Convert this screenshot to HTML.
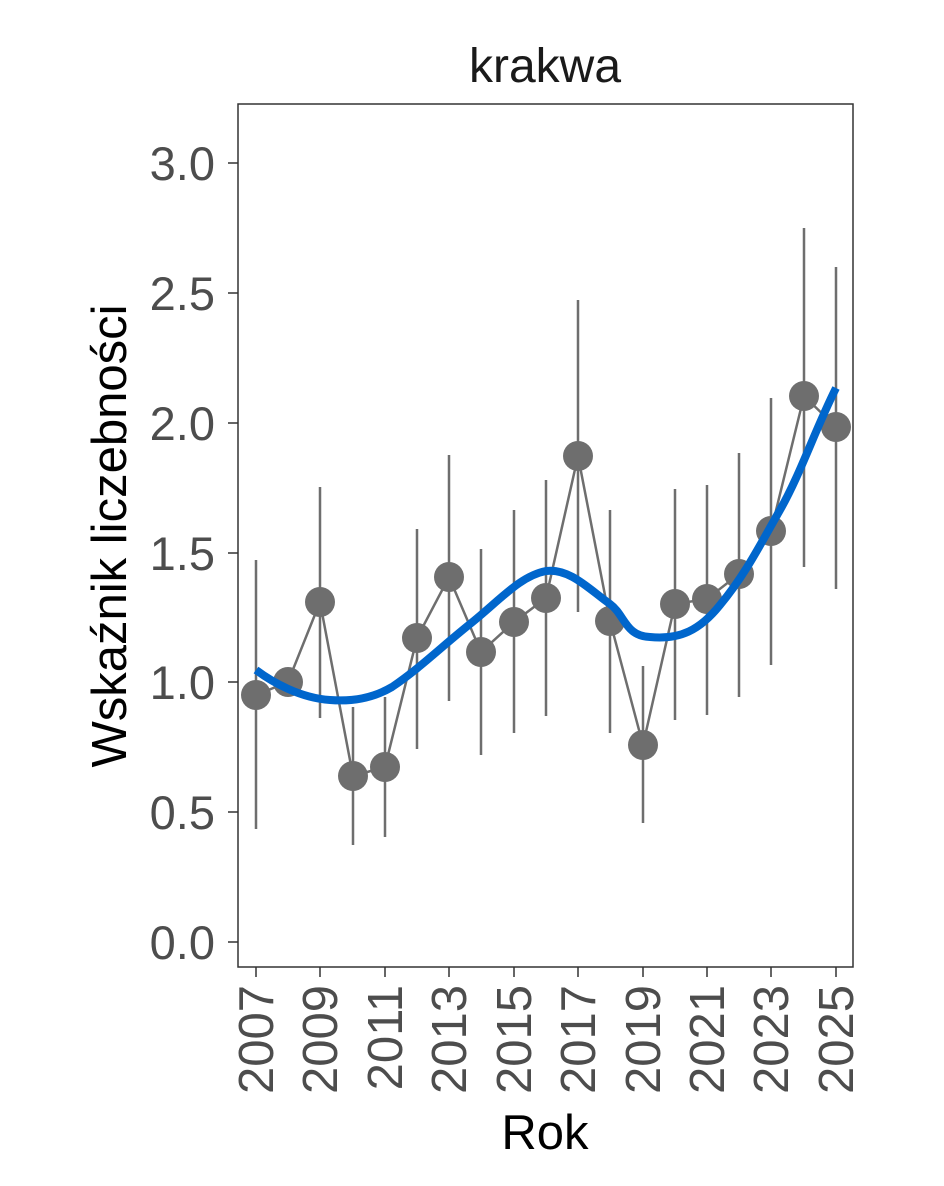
<!DOCTYPE html>
<html><head><style>body{margin:0;background:#fff}</style></head><body>
<svg width="944" height="1181" xmlns="http://www.w3.org/2000/svg" font-family="Liberation Sans, Arial, sans-serif">
<rect width="944" height="1181" fill="#fff"/>
<text x="545" y="82" font-size="48" text-anchor="middle" fill="#1a1a1a">krakwa</text>
<rect x="238" y="104" width="615" height="863" fill="none" stroke="#333" stroke-width="1.5"/>
<g stroke="#333" stroke-width="1.5">
<line x1="228" y1="942" x2="238" y2="942"/><line x1="228" y1="812" x2="238" y2="812"/><line x1="228" y1="682" x2="238" y2="682"/><line x1="228" y1="553" x2="238" y2="553"/><line x1="228" y1="423" x2="238" y2="423"/><line x1="228" y1="293" x2="238" y2="293"/><line x1="228" y1="163" x2="238" y2="163"/>
</g>
<g font-size="47" fill="#4d4d4d" text-anchor="end">
<text x="215" y="959">0.0</text><text x="215" y="829">0.5</text><text x="215" y="699">1.0</text><text x="215" y="570">1.5</text><text x="215" y="440">2.0</text><text x="215" y="310">2.5</text><text x="215" y="180">3.0</text>
</g>
<g stroke="#333" stroke-width="1.5">
<line x1="256" y1="967" x2="256" y2="977"/><line x1="320" y1="967" x2="320" y2="977"/><line x1="385" y1="967" x2="385" y2="977"/><line x1="449" y1="967" x2="449" y2="977"/><line x1="514" y1="967" x2="514" y2="977"/><line x1="578" y1="967" x2="578" y2="977"/><line x1="643" y1="967" x2="643" y2="977"/><line x1="707" y1="967" x2="707" y2="977"/><line x1="771" y1="967" x2="771" y2="977"/><line x1="836" y1="967" x2="836" y2="977"/>
</g>
<g font-size="49" fill="#4d4d4d" text-anchor="end">
<text transform="translate(273,985) rotate(-90)">2007</text>
<text transform="translate(337,985) rotate(-90)">2009</text>
<text transform="translate(402,985) rotate(-90)">2011</text>
<text transform="translate(466,985) rotate(-90)">2013</text>
<text transform="translate(531,985) rotate(-90)">2015</text>
<text transform="translate(595,985) rotate(-90)">2017</text>
<text transform="translate(660,985) rotate(-90)">2019</text>
<text transform="translate(724,985) rotate(-90)">2021</text>
<text transform="translate(788,985) rotate(-90)">2023</text>
<text transform="translate(853,985) rotate(-90)">2025</text>
</g>
<text x="545" y="1149" font-size="49" text-anchor="middle" fill="#000">Rok</text>
<text transform="translate(126,536) rotate(-90)" font-size="49" text-anchor="middle" fill="#000">Wskaźnik liczebności</text>
<g stroke="#6e6e6e" stroke-width="2.5">
<line x1="256" y1="560" x2="256" y2="829"/>
<line x1="320" y1="487" x2="320" y2="718"/>
<line x1="353" y1="707" x2="353" y2="845"/>
<line x1="385" y1="697" x2="385" y2="837"/>
<line x1="417" y1="529" x2="417" y2="749"/>
<line x1="449" y1="455" x2="449" y2="701"/>
<line x1="481" y1="549" x2="481" y2="755"/>
<line x1="514" y1="510" x2="514" y2="733"/>
<line x1="546" y1="480" x2="546" y2="716"/>
<line x1="578" y1="300" x2="578" y2="612"/>
<line x1="610" y1="510" x2="610" y2="733"/>
<line x1="643" y1="666" x2="643" y2="823"/>
<line x1="675" y1="489" x2="675" y2="720"/>
<line x1="707" y1="485" x2="707" y2="715"/>
<line x1="739" y1="453" x2="739" y2="697"/>
<line x1="771" y1="398" x2="771" y2="665"/>
<line x1="804" y1="228" x2="804" y2="567"/>
<line x1="836" y1="267" x2="836" y2="589"/>
</g>
<polyline fill="none" stroke="#6e6e6e" stroke-width="2.5" points="256,695 288,682 320,602 353,776 385,767 417,638 449,577 481,652 514,622 546,598 578,456 610,621 643,745 675,604 707,599 739,574 771,531 804,396 836,427"/>
<g fill="#6e6e6e">
<circle cx="256" cy="695" r="15"/><circle cx="288" cy="682" r="15"/><circle cx="320" cy="602" r="15"/><circle cx="353" cy="776" r="15"/><circle cx="385" cy="767" r="15"/><circle cx="417" cy="638" r="15"/><circle cx="449" cy="577" r="15"/><circle cx="481" cy="652" r="15"/><circle cx="514" cy="622" r="15"/><circle cx="546" cy="598" r="15"/><circle cx="578" cy="456" r="15"/><circle cx="610" cy="621" r="15"/><circle cx="643" cy="745" r="15"/><circle cx="675" cy="604" r="15"/><circle cx="707" cy="599" r="15"/><circle cx="739" cy="574" r="15"/><circle cx="771" cy="531" r="15"/><circle cx="804" cy="396" r="15"/><circle cx="836" cy="427" r="15"/>
</g>
<path fill="none" stroke="#0066cc" stroke-width="8" stroke-linejoin="round" d="M256,670 C272,682 300,698 330,700 C355,702 375,697 392,687 C420,668 440,648 470,624 C500,600 520,576 546,571 C570,568 590,590 610,604 C625,615 625,636 650,637 C680,640 700,630 720,605 C745,575 760,545 780,510 C800,475 815,430 836,388"/>
</svg>
</body></html>
